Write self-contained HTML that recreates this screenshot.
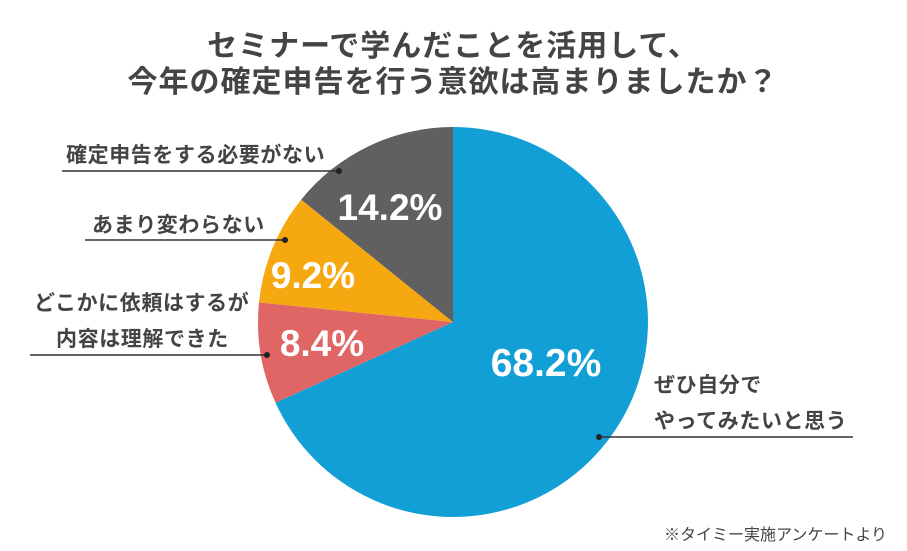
<!DOCTYPE html>
<html><head><meta charset="utf-8"><style>
body{margin:0;background:#fff}
svg{display:block}
text{font-family:"Liberation Sans","Noto Sans CJK JP",sans-serif}
</style></head><body>
<svg width="907" height="551" viewBox="0 0 907 551">
<g font-weight="bold" fill="#444" font-size="30" text-anchor="middle" letter-spacing="1">
<text x="453" y="56">セミナーで学んだことを活用して、</text>
<text x="453" y="92">今年の確定申告を行う意欲は高まりましたか？</text>
</g>
<path d="M453,322 L453,127 A195,195 0 1,1 275.5,402.8 Z" fill="#129fd6"/>
<path d="M453,322 L275.5,402.8 A195,195 0 0,1 259,302.4 Z" fill="#e06666"/>
<path d="M453,322 L259,302.4 A195,195 0 0,1 301.2,199.6 Z" fill="#f5a80f"/>
<path d="M453,322 L301.2,199.6 A195,195 0 0,1 453,127 Z" fill="#606060"/>
<g fill="#fff" font-weight="bold" font-size="37" text-anchor="middle">
<text x="390" y="220">14.2%</text>
<text x="313" y="288">9.2%</text>
<text x="322" y="356">8.4%</text>
<text x="546" y="376" font-size="39">68.2%</text>
</g>
<g stroke="#333" stroke-width="1.5">
<line x1="62" y1="171" x2="339" y2="171"/>
<line x1="85" y1="240" x2="285" y2="240"/>
<line x1="30" y1="355" x2="267" y2="355"/>
<line x1="599" y1="437" x2="853" y2="437"/>
</g>
<g fill="#222">
<circle cx="339" cy="171" r="3"/><circle cx="285" cy="240" r="3"/>
<circle cx="267" cy="355" r="3"/><circle cx="599" cy="437" r="3"/>
</g>
<g fill="#444" font-size="21" font-weight="bold" letter-spacing="0.6">
<text x="66" y="162">確定申告をする必要がない</text>
<text x="92" y="232">あまり変わらない</text>
<text x="34" y="310">どこかに依頼はするが</text>
<text x="56" y="346">内容は理解できた</text>
<text x="654" y="392">ぜひ自分で</text>
<text x="654" y="428">やってみたいと思う</text>
</g>
<text x="664" y="540" font-size="16" fill="#444">※タイミー実施アンケートより</text>
</svg>
</body></html>
